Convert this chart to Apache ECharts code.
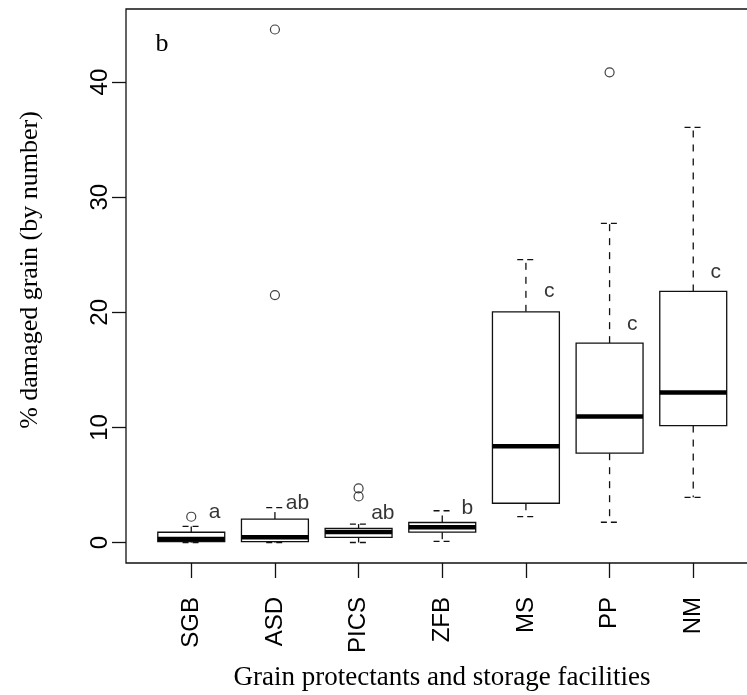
<!DOCTYPE html>
<html>
<head>
<meta charset="utf-8">
<script src="https://cdn.jsdelivr.net/npm/echarts@6/dist/echarts.min.js"></script>
<style>
html,body{margin:0;padding:0;background:#fff;}
#chart{width:747px;height:695px;}
</style>
</head>
<body>
<div id="chart"></div>
<script>
// ---- data ----
const categories = ['SGB', 'ASD', 'PICS', 'ZFB', 'MS', 'PP', 'NM'];
const whiskerLow  = [0,    0,    0,    0.1,  2.25, 1.76, 3.93];
const quartile1   = [0.07, 0.07, 0.45, 0.9,  3.41, 7.76, 10.16];
const medians     = [0.3,  0.45, 0.91, 1.33, 8.36, 10.94, 13.03];
const quartile3   = [0.89, 2.04, 1.23, 1.74, 20.04, 17.32, 21.81];
const whiskerHigh = [1.4,  3.03, 1.6,  2.76, 24.57, 27.72, 36.07];
// outliers: category index (1-based) and value
const outlierCat   = [1,    2,    2,     3,   3,   6];
const outlierValue = [2.24, 21.5, 44.57, 4.7, 4.0, 40.85];
// significance letters
const letterText = ['a', 'ab', 'ab', 'b', 'c', 'c', 'c'];
const letterX    = [1.28, 2.27, 3.29, 4.30, 5.28, 6.27, 7.27];
const letterY    = [2.65, 3.43, 2.56, 3.0, 21.8, 19.0, 23.47];
const yTicks = [0, 10, 20, 30, 40];
const xTicks = [1, 2, 3, 4, 5, 6, 7];

const boxData = categories.map((c, i) => [i + 1, whiskerLow[i], quartile1[i], medians[i], quartile3[i], whiskerHigh[i]]);
const outlierData = outlierCat.map((c, i) => [c, outlierValue[i]]);
const letterData = letterText.map((t, i) => ({ value: [letterX[i], letterY[i]], name: t }));

const INK = '#111';
const SANS = "'Liberation Sans', Arial, sans-serif";
const SERIF = "'Liberation Serif', 'Times New Roman', serif";

const chart = echarts.init(document.getElementById('chart'), null, { renderer: 'canvas' });
chart.setOption({
  animation: false,
  backgroundColor: '#fff',
  grid: {
    left: 126, top: 9, width: 632.5, bottom: 132,
    outerBoundsMode: 'none', containLabel: false,
    show: true, borderColor: INK, borderWidth: 1.3, backgroundColor: 'transparent'
  },
  xAxis: {
    type: 'value', min: 0.22, max: 7.78,
    splitLine: { show: false },
    axisLine: { show: false, onZero: false },
    axisTick: { show: true, customValues: xTicks, length: 15, lineStyle: { color: INK, width: 1.3 } },
    axisLabel: {
      customValues: xTicks, rotate: 90, margin: 34,
      formatter: v => categories[Math.round(v) - 1] || '',
      fontFamily: SANS, fontSize: 24, color: '#000'
    }
  },
  yAxis: {
    type: 'value', min: -1.78, max: 46.35,
    splitLine: { show: false },
    axisLine: { show: false, onZero: false },
    axisTick: { show: true, customValues: yTicks, length: 14, lineStyle: { color: INK, width: 1.3 } },
    axisLabel: {
      customValues: yTicks, rotate: 90, margin: 14,
      fontFamily: SANS, fontSize: 24, color: '#000'
    }
  },
  graphic: [
    { type: 'text', x: 30, y: 270, rotation: Math.PI / 2,
      style: { text: '% damaged grain (by number)', font: '26px ' + SERIF, fill: '#000', align: 'center', verticalAlign: 'middle' } },
    { type: 'text', x: 442, y: 678,
      style: { text: 'Grain protectants and storage facilities', font: '27px ' + SERIF, fill: '#000', align: 'center', verticalAlign: 'middle' } },
    { type: 'text', x: 162, y: 44,
      style: { text: 'b', font: '26px ' + SERIF, fill: '#000', align: 'center', verticalAlign: 'middle' } }
  ],
  series: [
    {
      type: 'custom',
      data: boxData,
      encode: { x: 0, y: [1, 2, 3, 4, 5] },
      renderItem: function (params, api) {
        const i = api.value(0);
        const pLo = api.coord([i, api.value(1)]);
        const pQ1 = api.coord([i, api.value(2)]);
        const pMed = api.coord([i, api.value(3)]);
        const pQ3 = api.coord([i, api.value(4)]);
        const pHi = api.coord([i, api.value(5)]);
        const bw = api.size([1, 0])[0] * 0.8;
        const x = pMed[0];
        const sw = bw * 0.13;
        const dashed = { stroke: INK, lineWidth: 1.3, lineDash: [7, 7] };
        const solid = { stroke: INK, lineWidth: 1.3, fill: '#fff' };
        return {
          type: 'group',
          children: [
            { type: 'line', shape: { x1: x, y1: pQ3[1], x2: x, y2: pHi[1] }, style: dashed },
            { type: 'line', shape: { x1: x, y1: pQ1[1], x2: x, y2: pLo[1] }, style: dashed },
            { type: 'line', shape: { x1: x - sw, y1: pHi[1], x2: x + sw, y2: pHi[1] }, style: { stroke: INK, lineWidth: 1.3, lineDash: [6, 4] } },
            { type: 'line', shape: { x1: x - sw, y1: pLo[1], x2: x + sw, y2: pLo[1] }, style: { stroke: INK, lineWidth: 1.3, lineDash: [6, 4] } },
            { type: 'rect', shape: { x: x - bw / 2, y: pQ3[1], width: bw, height: pQ1[1] - pQ3[1] }, style: solid },
            { type: 'line', shape: { x1: x - bw / 2, y1: pMed[1], x2: x + bw / 2, y2: pMed[1] }, style: { stroke: '#000', lineWidth: 4.5 } }
          ]
        };
      },
      z: 2
    },
    {
      type: 'scatter',
      data: outlierData,
      symbol: 'circle',
      symbolSize: 9,
      itemStyle: { color: 'rgba(0,0,0,0)', borderColor: INK, borderWidth: 1.2 },
      z: 3
    },
    {
      type: 'scatter',
      data: letterData,
      symbolSize: 0,
      label: {
        show: true, position: 'inside', formatter: p => p.name,
        fontFamily: SANS, fontSize: 21, color: '#000', align: 'center', verticalAlign: 'middle'
      },
      z: 4
    }
  ]
});
</script>
</body>
</html>
